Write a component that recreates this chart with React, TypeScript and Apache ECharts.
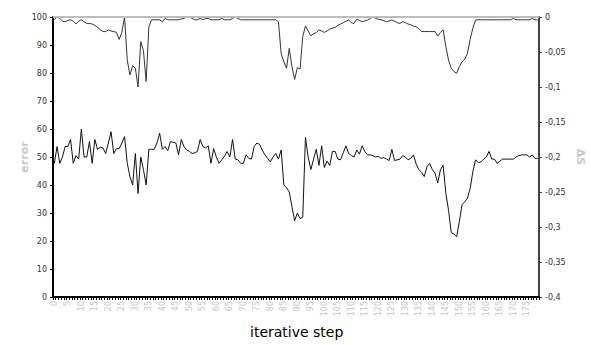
import React, { useEffect, useRef } from "react";
import * as echarts from "echarts";

const steps: string[] = Array.from({ length: 180 }, (_, i) => String(i));

const errorSeries: number[] = [
  99, 100, 99.5, 98.5, 98.3, 98.8, 99, 98.5, 97.5, 98.5,
  99, 98.3, 97.7, 97.7, 97.5, 97, 96.3, 95.5, 94.8, 94.8,
  95.4, 95, 94.8, 94.5, 92, 94.5, 100, 84.6, 79.3, 82.6,
  81.7, 75, 91.2, 88, 77, 96.5, 99, 99, 99, 99,
  98.3, 99.5, 99, 99, 99, 99, 99, 99.3, 99.5, 100,
  100, 99.5, 99, 99, 99.5, 99, 99.5, 99.5, 99, 99,
  99, 99, 99.5, 99, 99, 99, 99.5, 100, 99.5, 99,
  99, 99, 99, 99, 99, 99, 99, 99, 99, 99,
  99, 99, 99, 98.3, 87, 84, 81.7, 88.8, 82.2, 77.7,
  81.9, 81.4, 93, 96.8, 95, 93.3, 94, 94.4, 95.4, 95,
  94.5, 95, 95.7, 96, 96.3, 97, 97.5, 98, 98.5, 98.9,
  98, 97.7, 99.2, 98.8, 98.3, 98.6, 98.9, 99.5, 100, 99.5,
  99.2, 99, 98.7, 98.3, 98.6, 98.9, 98.5, 98, 97.7, 98.3,
  98, 97.5, 97.2, 96.8, 96.5, 95.8, 94.8, 94.8, 94.8, 94.8,
  94.8, 94.8, 93.2, 94.5, 95.4, 89.4, 84.6, 81.7, 80.5, 79.9,
  82.3, 84, 84.9, 87, 92, 96, 98.9, 99, 99, 99,
  99, 99, 99, 99, 99, 99, 99, 99, 99, 99,
  99.5, 99, 99, 99, 99, 99, 99, 99.5, 99, 99,
];

const deltaSeries: number[] = [
  -0.209, -0.185, -0.209, -0.2, -0.185, -0.185, -0.175, -0.209, -0.198, -0.203,
  -0.16, -0.2, -0.2, -0.178, -0.209, -0.175, -0.189, -0.186, -0.187, -0.195,
  -0.18, -0.164, -0.195, -0.188, -0.188, -0.18, -0.171, -0.209, -0.228, -0.24,
  -0.195, -0.252, -0.2, -0.218, -0.24, -0.189, -0.189, -0.189, -0.18, -0.166,
  -0.189, -0.185, -0.191, -0.178, -0.179, -0.18, -0.197, -0.175, -0.185, -0.19,
  -0.192, -0.195, -0.194, -0.192, -0.175, -0.185, -0.187, -0.184, -0.209, -0.188,
  -0.2, -0.209, -0.204, -0.199, -0.192, -0.2, -0.175, -0.203, -0.204, -0.209,
  -0.209, -0.197, -0.202, -0.203, -0.185, -0.18, -0.182, -0.19, -0.197, -0.202,
  -0.207, -0.2, -0.195, -0.203, -0.19, -0.24, -0.244, -0.25, -0.271, -0.291,
  -0.28, -0.288, -0.286, -0.172, -0.2, -0.218, -0.203, -0.189, -0.212, -0.184,
  -0.215, -0.206, -0.212, -0.192, -0.192, -0.203, -0.204, -0.194, -0.184, -0.195,
  -0.198, -0.2, -0.19, -0.196, -0.184, -0.192, -0.197, -0.197, -0.198, -0.2,
  -0.199, -0.202, -0.201, -0.203, -0.205, -0.189, -0.205, -0.204, -0.203, -0.198,
  -0.2, -0.204, -0.202, -0.197, -0.21, -0.218, -0.222, -0.228, -0.214, -0.209,
  -0.218, -0.223, -0.237, -0.218, -0.212, -0.252, -0.276, -0.308, -0.31, -0.314,
  -0.292, -0.268, -0.264, -0.259, -0.245, -0.221, -0.204, -0.208, -0.207, -0.203,
  -0.2, -0.192, -0.203, -0.203, -0.209, -0.206, -0.203, -0.203, -0.203, -0.203,
  -0.203, -0.2, -0.198, -0.197, -0.197, -0.197, -0.2, -0.197, -0.202, -0.202,
];

const xTitle = "iterative step";
const leftTitle = "error";
const rightTitle = "ΔS";

export default function App() {
  const ref = useRef<HTMLDivElement>(null);
  useEffect(() => {
    if (!ref.current) return;
    const chart = echarts.init(ref.current, undefined, { renderer: "svg" });
    const font = "DejaVu Sans";
    chart.setOption({
      animation: false,
      grid: {
        left: 53,
        right: 52,
        top: 17,
        bottom: 48,
        outerBoundsMode: "none",
      },
      graphic: [
        {
          type: "text",
          left: 250,
          top: 325,
          style: { text: xTitle, font: `14px "${font}"`, fill: "#000" },
        },
      ],
      xAxis: {
        type: "category",
        data: steps,
        boundaryGap: true,
        axisLine: { lineStyle: { color: "#000", width: 2 } },
        axisTick: { show: true, interval: 0, length: 3, lineStyle: { color: "#000" } },
        axisLabel: {
          interval: 4,
          rotate: 90,
          fontFamily: font,
          fontSize: 8,
          color: "#c4c4c4",
          margin: 4,
          hideOverlap: false,
        },
      },
      yAxis: [
        {
          type: "value",
          min: 0,
          max: 100,
          interval: 10,
          name: leftTitle,
          nameLocation: "middle",
          nameGap: 23,
          nameMoveOverlap: false,
          nameTextStyle: { fontFamily: font, fontSize: 11, fontWeight: "bold", color: "#c8c8c8" },
          axisLine: { show: true, lineStyle: { color: "#000", width: 2 } },
          axisTick: { show: true, length: 3, lineStyle: { color: "#000" } },
          splitLine: { show: false },
          axisLabel: { fontFamily: font, fontSize: 8, color: "#333", margin: 6 },
        },
        {
          type: "value",
          min: -0.4,
          max: 0,
          interval: 0.05,
          position: "right",
          name: rightTitle,
          nameLocation: "middle",
          nameGap: 36,
          nameMoveOverlap: false,
          nameRotate: -90,
          nameTextStyle: { fontFamily: font, fontSize: 11, fontWeight: "bold", color: "#c8c8c8" },
          axisLine: { show: true, lineStyle: { color: "#444", width: 2 } },
          axisTick: { show: true, length: 3, lineStyle: { color: "#444" } },
          splitLine: { show: false },
          axisLabel: {
            fontFamily: font,
            fontSize: 8,
            color: "#333",
            margin: 6,
            formatter: (v: number) => String(Math.round(v * 100) / 100).replace(".", ","),
          },
        },
      ],
      series: [
        {
          type: "line",
          data: errorSeries,
          yAxisIndex: 0,
          symbol: "none",
          lineStyle: { color: "#333", width: 1 },
          markLine: {
            silent: true,
            symbol: "none",
            label: { show: false },
            lineStyle: { color: "#bdbdbd", width: 2, type: "solid" },
            data: [{ yAxis: 100 }],
          },
        },
        {
          type: "line",
          data: deltaSeries,
          yAxisIndex: 1,
          symbol: "none",
          lineStyle: { color: "#111", width: 1 },
        },
      ],
    });
    return () => chart.dispose();
  }, []);
  return <div ref={ref} style={{ width: 591, height: 345, position: "absolute", left: 0, top: 0 }} />;
}
